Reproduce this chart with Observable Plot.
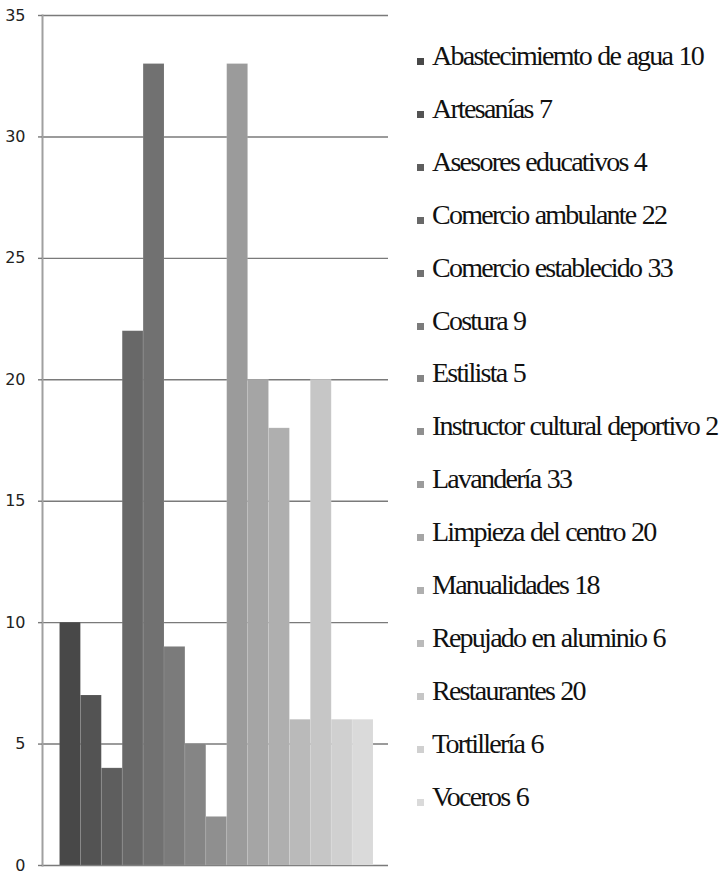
<!DOCTYPE html>
<html>
<head>
<meta charset="utf-8">
<script src="https://cdn.jsdelivr.net/npm/d3@7"></script>
<script src="https://cdn.jsdelivr.net/npm/@observablehq/plot@0.6"></script>
<style>
  html, body { margin: 0; padding: 0; background: #fff; }
  #wrap { position: relative; width: 723px; height: 873px; overflow: hidden; }
  #chart { position: absolute; left: 0; top: 0; }
  #legend { position: absolute; left: 0; top: 0; }
  .item { position: absolute; left: 417px; height: 40px; white-space: nowrap;
          font-family: "Liberation Serif", "Times New Roman", serif; font-size: 28px;
          letter-spacing: -1.75px; word-spacing: 1px; color: #111; }
  .sw { position: absolute; left: 0; width: 7px; height: 7px; }
  .lbl { position: absolute; left: 15px; }
</style>
</head>
<body>
<div id="wrap"><div id="chart"></div><div id="legend"></div></div>
<script>
const categories = [
  "Abastecimiemto de agua", "Artesanías", "Asesores educativos", "Comercio ambulante",
  "Comercio establecido", "Costura", "Estilista", "Instructor cultural deportivo",
  "Lavandería", "Limpieza del centro", "Manualidades", "Repujado en aluminio",
  "Restaurantes", "Tortillería", "Voceros"
];
const values = [10, 7, 4, 22, 33, 9, 5, 2, 33, 20, 18, 6, 20, 6, 6];
const yTicks = [0, 5, 10, 15, 20, 25, 30, 35];
const palette = ["#484848", "#535353", "#5e5e5e", "#686868", "#717171", "#7b7b7b", "#858585",
  "#8f8f8f", "#9b9b9b", "#a5a5a5", "#afafaf", "#bababa", "#c6c6c6", "#d0d0d0", "#dadada"];

const data = categories.map((c, i) => ({category: c, value: values[i]}));

const chart = Plot.plot({
  width: 400,
  height: 873,
  marginTop: 15,
  marginBottom: 8,
  marginLeft: 42,
  marginRight: 12,
  x: {domain: categories, padding: 0, round: false, insetLeft: 17.5, insetRight: 15, axis: null},
  y: {domain: [0, 35], ticks: yTicks, label: null},
  color: {domain: categories, range: palette},
  style: {fontFamily: "DejaVu Sans, sans-serif", fontSize: "16px", color: "#222", overflow: "visible"},
  marks: [
    Plot.gridY(yTicks, {stroke: "#7a7a7a", strokeOpacity: 1, strokeWidth: 1.4}),
    Plot.frame({anchor: "left", stroke: "#a0a0a0", strokeWidth: 2}),
    Plot.barY(data, {x: "category", y: "value", fill: "category", stroke: "#ffffff", strokeOpacity: 0.12, strokeWidth: 0.8}),
    Plot.axisY(yTicks, {tickSize: 4, stroke: "#7a7a7a", strokeWidth: 1.4, tickPadding: 13, fontSize: 16, fill: "#222", label: null})
  ]
});
document.getElementById("chart").appendChild(chart);

const legend = document.getElementById("legend");
categories.forEach((c, i) => {
  const top = 40 + i * 52.9;
  const item = document.createElement("div");
  item.className = "item";
  item.style.top = top + "px";
  const sw = document.createElement("div");
  sw.className = "sw";
  sw.style.background = palette[i];
  sw.style.top = "18px";
  const lbl = document.createElement("div");
  lbl.className = "lbl";
  lbl.style.top = "0px";
  lbl.textContent = c + " " + values[i];
  item.appendChild(sw); item.appendChild(lbl);
  legend.appendChild(item);
});
</script>
</body>
</html>
